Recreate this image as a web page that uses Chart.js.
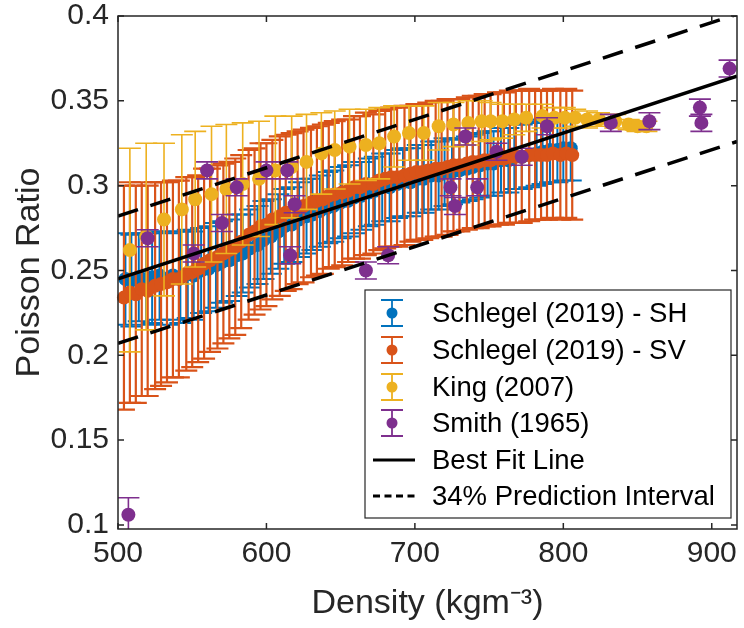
<!DOCTYPE html>
<html>
<head>
<meta charset="utf-8">
<script src="https://cdn.jsdelivr.net/npm/chart.js@4.4.0/dist/chart.umd.min.js"></script>
<style>
  html, body { margin: 0; padding: 0; background: #fff; }
</style>
</head>
<body>
<canvas id="myChart" width="744" height="628"></canvas>
<script>
// axis ticks
const xTicks = [500, 600, 700, 800, 900];
const yTicks = [0.1, 0.15, 0.2, 0.25, 0.3, 0.35, 0.4];

// Schlegel (2019) - SH
const shX = [505,509,514,519,523,528,533,537,542,547,551,556,561,566,570,575,580,584,589,594,598,603,608,612,617,622,627,631,636,641,645,650,655,659,664,669,673,678,683,688,692,697,702,706,711,716,720,725,730,735,739,744,749,753,758,763,767,772,777,782,786,791,796,800,805];
const shY = [.245,.244,.246,.245,.246,.247,.245,.247,.246,.248,.247,.250,.251,.253,.255,.256,.259,.260,.263,.265,.268,.270,.273,.276,.277,.280,.282,.283,.285,.287,.288,.290,.291,.293,.294,.296,.297,.299,.299,.301,.302,.302,.304,.304,.306,.306,.308,.308,.309,.310,.311,.312,.313,.313,.315,.315,.317,.317,.318,.319,.320,.321,.321,.322,.322];
const shErr = [.027,.027,.026,.027,.027,.026,.027,.026,.027,.026,.026,.025,.025,.025,.024,.024,.024,.023,.023,.023,.023,.022,.022,.022,.022,.022,.022,.021,.021,.021,.021,.021,.021,.021,.020,.020,.020,.020,.020,.020,.020,.020,.020,.020,.020,.020,.020,.019,.019,.019,.019,.019,.019,.019,.019,.019,.019,.019,.019,.019,.019,.019,.019,.019,.019];

// Schlegel (2019) - SV
const svX = [504,508,512,516,520,525,529,533,537,541,546,550,554,558,562,567,571,575,579,583,588,592,596,600,604,609,613,617,621,625,630,634,638,642,646,651,655,659,663,667,672,676,680,684,688,693,697,701,705,709,714,718,722,726,730,735,739,743,747,751,756,760,764,768,772,777,781,785,789,793,798,802,806];
const svY = [.234,.237,.236,.239,.238,.241,.242,.243,.245,.245,.248,.249,.251,.254,.256,.258,.260,.262,.264,.267,.271,.273,.276,.277,.280,.282,.284,.285,.287,.288,.290,.291,.292,.294,.295,.296,.297,.299,.299,.301,.301,.303,.304,.305,.305,.306,.307,.308,.308,.309,.310,.310,.311,.312,.312,.313,.314,.314,.315,.315,.316,.316,.317,.317,.317,.318,.318,.318,.318,.319,.318,.319,.318];
const svErr = [.066,.065,.064,.063,.062,.061,.060,.059,.058,.058,.057,.056,.055,.056,.054,.054,.053,.052,.052,.051,.050,.049,.049,.048,.047,.047,.046,.046,.045,.045,.044,.044,.044,.043,.043,.043,.042,.042,.042,.042,.041,.041,.041,.041,.041,.041,.040,.040,.040,.040,.040,.040,.040,.039,.039,.039,.039,.039,.039,.039,.039,.039,.039,.039,.039,.039,.038,.038,.038,.038,.038,.038,.038];

// King (2007)
const kingX = [508,519,531,543,552,563,573,584,595,606,617,627,637,646,656,667,676,686,696,706,716,726,736,745,751,759,767,775,786,794,801,808,816,824,835,844,850,856];
const kingY = [.262,.270,.280,.286,.292,.295,.298,.301,.304,.309,.311,.314,.319,.321,.323,.324,.325,.329,.331,.331,.335,.336,.337,.338,.338,.338,.339,.340,.341,.340,.340,.340,.339,.339,.338,.336,.335,.335];
const kingErr = [.060,.055,.045,.044,.040,.040,.038,.036,.034,.032,.030,.028,.024,.023,.022,.021,.021,.018,.016,.016,.014,.013,.013,.012,.011,.010,.009,.008,.007,.006,.006,.005,.005,.004,.004,.003,.003,.003];

// Smith (1965)
const smithX = [507,520,551,560,570,580,600,614,619,616,667,682,724,742,727,734,755,772,789,832,858,892,893,912];
const smithY = [.106,.269,.260,.309,.278,.299,.309,.309,.289,.259,.250,.259,.299,.299,.288,.329,.320,.317,.335,.337,.338,.346,.337,.369];
const smithErr = [.010,.005,.005,.005,.005,.005,.005,.005,.005,.005,.005,.005,.005,.005,.005,.005,.005,.005,.005,.005,.005,.005,.005,.005];

// fit and prediction interval
const fitX = [500, 917];
const fitY = [0.245, 0.3645];
const upperY = [0.282, 0.401];
const lowerY = [0.207, 0.326];

const FONT = "'Liberation Sans', Arial, Helvetica, sans-serif";
const AXIS = '#262626';

const toPoints = (xs, ys) => xs.map((x, i) => ({ x: x, y: ys[i] }));

const errSeries = (label, xs, ys, errs, color, barWidth, order) => ({
  type: 'scatter',
  label: label,
  data: toPoints(xs, ys),
  yErr: errs,
  barWidth: barWidth,
  backgroundColor: color,
  borderColor: color,
  borderWidth: 0,
  pointRadius: 7,
  pointHoverRadius: 7,
  clip: false,
  order: order
});

const lineSeries = (label, ys, dash, order) => ({
  type: 'line',
  label: label,
  data: toPoints(fitX, ys),
  borderColor: '#000',
  borderWidth: 3.5,
  borderDash: dash,
  pointRadius: 0,
  fill: false,
  order: order
});

// error bars are drawn just before each series' markers
const errorBars = {
  id: 'errorBars',
  beforeDatasetDraw(chart, args) {
    const ds = chart.data.datasets[args.index];
    if (!ds.yErr) return;
    const { ctx, chartArea, scales: { x, y } } = chart;
    ctx.save();
    ctx.beginPath();
    ctx.rect(chartArea.left, chartArea.top, chartArea.right - chartArea.left, chartArea.bottom - chartArea.top);
    ctx.clip();
    ctx.strokeStyle = ds.borderColor;
    ctx.lineWidth = ds.barWidth;
    const cap = 11;
    ds.data.forEach((p, i) => {
      const e = ds.yErr[i];
      const px = x.getPixelForValue(p.x);
      const top = y.getPixelForValue(p.y + e);
      const bot = y.getPixelForValue(p.y - e);
      ctx.beginPath();
      ctx.moveTo(px, top); ctx.lineTo(px, bot);
      ctx.moveTo(px - cap, top); ctx.lineTo(px + cap, top);
      ctx.moveTo(px - cap, bot); ctx.lineTo(px + cap, bot);
      ctx.stroke();
    });
    ctx.restore();
  }
};

// matlab style box with inward ticks
const axesBox = {
  id: 'axesBox',
  afterDatasetsDraw(chart) {
    const { ctx, chartArea: a, scales: { x, y } } = chart;
    const t = 6;
    ctx.save();
    ctx.strokeStyle = AXIS;
    ctx.lineWidth = 1.5;
    ctx.strokeRect(a.left, a.top, a.right - a.left, a.bottom - a.top);
    ctx.beginPath();
    xTicks.forEach((v) => {
      const px = x.getPixelForValue(v);
      ctx.moveTo(px, a.bottom); ctx.lineTo(px, a.bottom - t);
      ctx.moveTo(px, a.top); ctx.lineTo(px, a.top + t);
    });
    yTicks.forEach((v) => {
      const py = y.getPixelForValue(v);
      ctx.moveTo(a.left, py); ctx.lineTo(a.left + t, py);
      ctx.moveTo(a.right, py); ctx.lineTo(a.right - t, py);
    });
    ctx.stroke();
    ctx.restore();
  }
};

// legend box inside the axes, lower right
const boxLegend = {
  id: 'boxLegend',
  afterDraw(chart) {
    const ctx = chart.ctx;
    const bx = 365, by = 290, bw = 366, bh = 228;
    const rows = [313, 350, 387, 423, 460, 496];
    ctx.save();
    ctx.fillStyle = '#fff';
    ctx.fillRect(bx, by, bw, bh);
    ctx.strokeStyle = AXIS;
    ctx.lineWidth = 1.2;
    ctx.strokeRect(bx, by, bw, bh);
    const items = chart.data.datasets.filter((d) => d.label);
    items.forEach((ds, i) => {
      const yy = rows[i];
      if (ds.yErr) {
        const sx = 392;
        ctx.strokeStyle = ds.borderColor;
        ctx.lineWidth = 1.8;
        ctx.beginPath();
        ctx.moveTo(sx, yy - 13); ctx.lineTo(sx, yy + 13);
        ctx.moveTo(sx - 11, yy - 13); ctx.lineTo(sx + 11, yy - 13);
        ctx.moveTo(sx - 11, yy + 13); ctx.lineTo(sx + 11, yy + 13);
        ctx.stroke();
        ctx.fillStyle = ds.backgroundColor;
        ctx.beginPath();
        ctx.arc(sx, yy, 5.5, 0, Math.PI * 2);
        ctx.fill();
      } else {
        ctx.strokeStyle = '#000';
        ctx.lineWidth = 3;
        ctx.setLineDash(ds.borderDash.length ? [7, 4.5] : []);
        ctx.beginPath();
        ctx.moveTo(373, yy); ctx.lineTo(415, yy);
        ctx.stroke();
        ctx.setLineDash([]);
      }
      ctx.fillStyle = '#000';
      ctx.font = '27.5px ' + FONT;
      ctx.textBaseline = 'middle';
      ctx.textAlign = 'left';
      ctx.fillText(ds.label, 432, yy + 1);
    });
    ctx.restore();
  }
};

const generateChart = () => {
  const ctx = document.getElementById('myChart').getContext('2d');
  return new Chart(ctx, {
    data: {
      datasets: [
        errSeries('Schlegel (2019) - SH', shX, shY, shErr, '#0072BD', 2, 7),
        errSeries('Schlegel (2019) - SV', svX, svY, svErr, '#D95319', 2.2, 6),
        errSeries('King (2007)', kingX, kingY, kingErr, '#EDB120', 1.6, 5),
        errSeries('Smith (1965)', smithX, smithY, smithErr, '#7E2F8E', 1.6, 4),
        lineSeries('Best Fit Line', fitY, [], 3),
        lineSeries('34% Prediction Interval', upperY, [21, 13], 2),
        lineSeries('', lowerY, [21, 13], 1)
      ]
    },
    options: {
      responsive: false,
      animation: false,
      devicePixelRatio: 1,
      layout: { padding: { top: 16, right: 4, left: 0, bottom: 0 } },
      plugins: { legend: { display: false }, tooltip: { enabled: false } },
      scales: {
        x: {
          type: 'linear',
          min: 500,
          max: 917,
          afterBuildTicks: (s) => { s.ticks = xTicks.map((v) => ({ value: v })); },
          afterFit: (s) => { s.height = 99; s.paddingLeft = 0; s.paddingRight = 0; },
          grid: { display: false, drawTicks: false },
          border: { display: false },
          ticks: {
            color: AXIS,
            padding: 10,
            maxRotation: 0,
            autoSkip: false,
            font: { family: FONT, size: 30, lineHeight: 1 },
            callback: (v) => String(v)
          },
          title: {
            display: true,
            text: 'Density (kgm\u207B\u00B3)',
            color: AXIS,
            font: { family: FONT, size: 34 },
            padding: { top: 0, bottom: 4 }
          }
        },
        y: {
          type: 'linear',
          min: 0.0976,
          max: 0.4,
          afterBuildTicks: (s) => { s.ticks = yTicks.map((v) => ({ value: v })); },
          afterFit: (s) => { s.width = 118; s.paddingTop = 0; s.paddingBottom = 0; },
          grid: { display: false, drawTicks: false },
          border: { display: false },
          ticks: {
            color: AXIS,
            padding: 9,
            autoSkip: false,
            font: { family: FONT, size: 30, lineHeight: 1 },
            callback: (v) => String(v)
          },
          title: {
            display: true,
            text: 'Poisson Ratio',
            color: AXIS,
            font: { family: FONT, size: 34 },
            padding: { top: 9, bottom: 0 }
          }
        }
      }
    },
    plugins: [errorBars, axesBox, boxLegend]
  });
};

generateChart();
</script>
</body>
</html>
